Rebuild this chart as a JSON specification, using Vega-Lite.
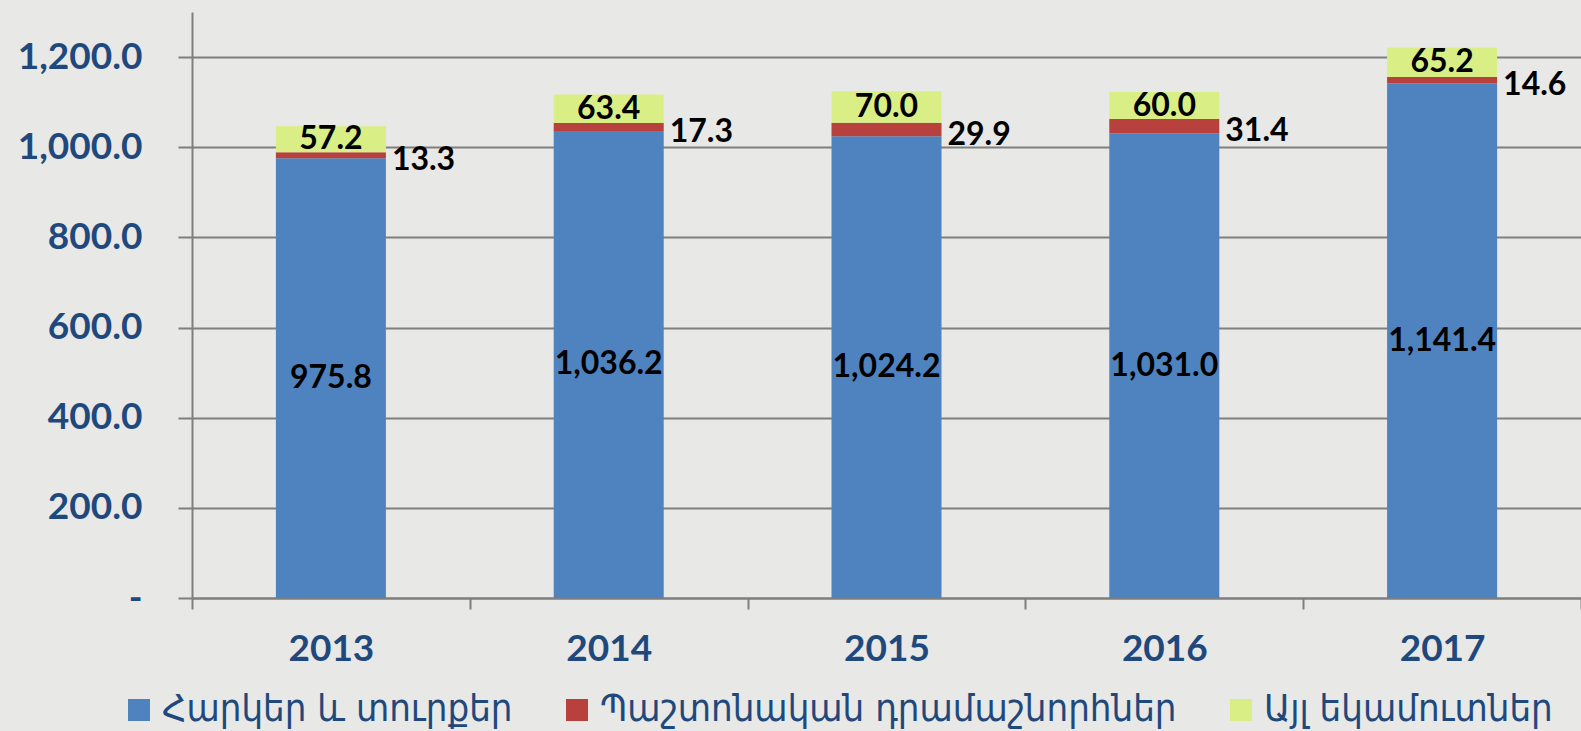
{
  "$schema": "https://vega.github.io/schema/vega-lite/v6.json",
  "width": 1389,
  "height": 586,
  "autosize": {"type": "none"},
  "padding": {"left": 192, "top": 12, "right": 0, "bottom": 133},
  "background": "#e8e8e6",
  "config": {"view": {"stroke": null}},
  "data": {
    "values": [
      {"year": "2013", "series": "Հարկեր և տուրքեր", "value": 975.8},
      {"year": "2013", "series": "Պաշտոնական դրամաշնորհներ", "value": 13.3},
      {"year": "2013", "series": "Այլ եկամուտներ", "value": 57.2},
      {"year": "2014", "series": "Հարկեր և տուրքեր", "value": 1036.2},
      {"year": "2014", "series": "Պաշտոնական դրամաշնորհներ", "value": 17.3},
      {"year": "2014", "series": "Այլ եկամուտներ", "value": 63.4},
      {"year": "2015", "series": "Հարկեր և տուրքեր", "value": 1024.2},
      {"year": "2015", "series": "Պաշտոնական դրամաշնորհներ", "value": 29.9},
      {"year": "2015", "series": "Այլ եկամուտներ", "value": 70.0},
      {"year": "2016", "series": "Հարկեր և տուրքեր", "value": 1031.0},
      {"year": "2016", "series": "Պաշտոնական դրամաշնորհներ", "value": 31.4},
      {"year": "2016", "series": "Այլ եկամուտներ", "value": 60.0},
      {"year": "2017", "series": "Հարկեր և տուրքեր", "value": 1141.4},
      {"year": "2017", "series": "Պաշտոնական դրամաշնորհներ", "value": 14.6},
      {"year": "2017", "series": "Այլ եկամուտներ", "value": 65.2}
    ]
  },
  "transform": [
    {"calculate": "indexof(['Հարկեր և տուրքեր','Պաշտոնական դրամաշնորհներ','Այլ եկամուտներ'], datum.series)", "as": "k"},
    {"stack": "value", "groupby": ["year"], "sort": [{"field": "k", "order": "ascending"}], "as": ["v0", "v1"]},
    {"calculate": "(datum.v0 + datum.v1) / 2", "as": "mid"}
  ],
  "encoding": {
    "x": {
      "field": "year",
      "type": "ordinal",
      "title": null,
      "scale": {"paddingInner": 0, "paddingOuter": 0},
      "axis": {
        "labelAngle": 0,
        "tickBand": "extent",
        "tickSize": 11,
        "tickColor": "#7f7f7f",
        "tickWidth": 2,
        "domainColor": "#7f7f7f",
        "domainWidth": 2,
        "grid": false,
        "labelFont": "Lato",
        "labelFontWeight": "bold",
        "labelFontSize": 37,
        "labelColor": "#1f497d",
        "labelPadding": 22,
        "title": null
      }
    }
  },
  "layer": [
    {
      "mark": {"type": "bar", "width": {"band": 0.396}},
      "encoding": {
        "y": {
          "field": "v0",
          "type": "quantitative",
          "title": null,
          "scale": {"domain": [0, 1300], "nice": false},
          "axis": {
            "values": [0, 200, 400, 600, 800, 1000, 1200],
            "labelExpr": "datum.value == 0 ? '-   ' : format(datum.value, ',.1f')",
            "labelFont": "Lato",
            "labelFontWeight": "bold",
            "labelFontSize": 37,
            "labelColor": "#1f497d",
            "labelPadding": 36,
            "tickSize": 14,
            "tickColor": "#7f7f7f",
            "tickWidth": 2,
            "domainColor": "#7f7f7f",
            "domainWidth": 2,
            "grid": true,
            "gridColor": "#7f7f7f",
            "gridWidth": 2,
            "title": null
          }
        },
        "y2": {"field": "v1"},
        "color": {
          "field": "series",
          "type": "nominal",
          "scale": {
            "domain": ["Հարկեր և տուրքեր", "Պաշտոնական դրամաշնորհներ", "Այլ եկամուտներ"],
            "range": ["#4f83c0", "#b8413e", "#d9ef86"]
          },
          "legend": {
            "orient": "none",
            "legendX": -72,
            "legendY": 679,
            "direction": "horizontal",
            "title": null,
            "labelFont": "DejaVu Sans Condensed, DejaVu Sans",
            "labelFontSize": 38,
            "labelColor": "#1f497d",
            "symbolType": "square",
            "symbolSize": 484,
            "symbolStrokeWidth": 0,
            "columnPadding": 45,
            "labelOffset": 4,
            "labelLimit": 0
          }
        }
      }
    },
    {
      "transform": [{"filter": "datum.k != 1"}],
      "mark": {"type": "text", "font": "Lato", "fontWeight": "bold", "fontSize": 32, "color": "#000000", "baseline": "middle"},
      "encoding": {
        "y": {"field": "mid", "type": "quantitative", "title": null},
        "text": {"field": "value", "type": "quantitative", "format": ",.1f"}
      }
    },
    {
      "transform": [{"filter": "datum.k == 1"}],
      "mark": {"type": "text", "font": "Lato", "fontWeight": "bold", "fontSize": 32, "color": "#000000", "baseline": "middle", "align": "left", "dx": 61, "dy": 5},
      "encoding": {
        "y": {"field": "mid", "type": "quantitative", "title": null},
        "text": {"field": "value", "type": "quantitative", "format": ",.1f"}
      }
    }
  ]
}
